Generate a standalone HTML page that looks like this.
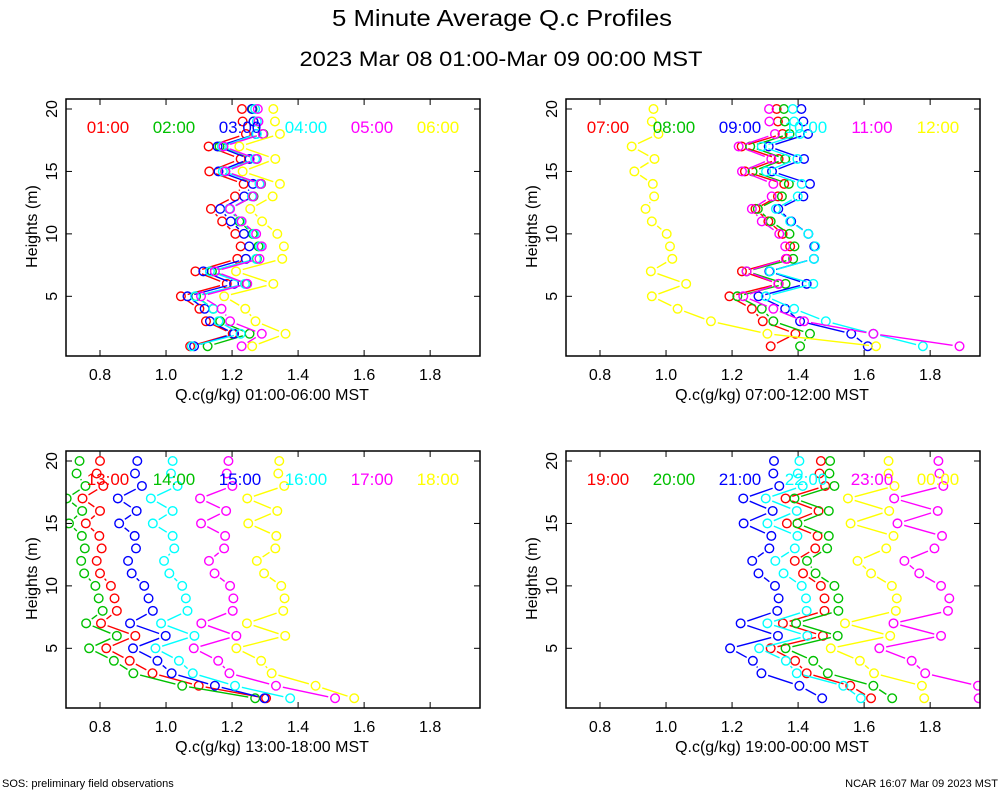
<!DOCTYPE html>
<html><head><meta charset="utf-8"><style>
body{margin:0;background:#fff;width:1000px;height:800px;overflow:hidden}
svg{display:block;font-family:"Liberation Sans",sans-serif}
</style></head><body>
<svg id="chart" width="1000" height="800" viewBox="0 0 1000 800">
<text x="502" y="26" text-anchor="middle" font-size="23" textLength="340" lengthAdjust="spacingAndGlyphs">5 Minute Average Q.c Profiles</text>
<text x="501" y="66" text-anchor="middle" font-size="21" textLength="403" lengthAdjust="spacingAndGlyphs">2023 Mar 08 01:00-Mar 09 00:00 MST</text>
<text x="2" y="787" font-size="11">SOS: preliminary field observations</text>
<text x="998" y="787" font-size="11" text-anchor="end">NCAR 16:07 Mar 09 2023 MST</text>
</svg>
<script>
const heights=[20,19,18,17,16,15,14,13,12,11,10,9,8,7,6,5,4,3,2,1];
const xTicks=[0.8,1.0,1.2,1.4,1.6,1.8];
const yTicks=[5,10,15,20];
const colors=["#ff0000","#00c000","#0000ff","#00ffff","#ff00ff","#ffff00"];
const p1Labels=["01:00","02:00","03:00","04:00","05:00","06:00"];
const p2Labels=["07:00","08:00","09:00","10:00","11:00","12:00"];
const p3Labels=["13:00","14:00","15:00","16:00","17:00","18:00"];
const p4Labels=["19:00","20:00","21:00","22:00","23:00","00:00"];
const p1Red=[1.230,1.232,1.242,1.129,1.226,1.131,1.235,1.209,1.136,1.170,1.210,1.226,1.216,1.089,1.184,1.045,1.101,1.121,1.202,1.073];
const p1Green=[1.262,1.265,1.295,1.162,1.275,1.179,1.288,1.265,1.192,1.222,1.263,1.280,1.275,1.139,1.244,1.091,1.143,1.164,1.253,1.126];
const p1Blue=[1.260,1.265,1.273,1.156,1.253,1.159,1.263,1.237,1.164,1.196,1.236,1.252,1.242,1.113,1.206,1.065,1.117,1.133,1.206,1.085];
const p1Cyan=[1.270,1.275,1.275,1.169,1.270,1.172,1.283,1.260,1.192,1.226,1.267,1.285,1.273,1.133,1.239,1.088,1.143,1.159,1.226,1.078];
const p1Magenta=[1.278,1.280,1.293,1.174,1.275,1.180,1.287,1.263,1.194,1.229,1.273,1.290,1.283,1.148,1.246,1.106,1.168,1.194,1.290,1.229];
const p1Yellow=[1.325,1.330,1.345,1.222,1.331,1.232,1.345,1.323,1.255,1.291,1.337,1.357,1.352,1.212,1.325,1.176,1.240,1.271,1.362,1.261];
const p2Red=[1.335,1.339,1.353,1.229,1.341,1.239,1.358,1.339,1.271,1.310,1.353,1.376,1.366,1.230,1.341,1.192,1.260,1.293,1.392,1.317];
const p2Green=[1.357,1.360,1.374,1.255,1.361,1.262,1.372,1.351,1.278,1.317,1.374,1.389,1.385,1.244,1.362,1.216,1.290,1.325,1.436,1.406];
const p2Blue=[1.410,1.416,1.430,1.311,1.418,1.321,1.436,1.416,1.340,1.379,1.431,1.449,1.448,1.313,1.426,1.280,1.361,1.406,1.561,1.611];
const p2Cyan=[1.384,1.388,1.406,1.290,1.398,1.303,1.411,1.399,1.333,1.376,1.431,1.452,1.448,1.315,1.446,1.302,1.388,1.484,1.628,1.778];
const p2Magenta=[1.312,1.313,1.330,1.220,1.319,1.230,1.325,1.320,1.260,1.290,1.343,1.361,1.363,1.244,1.340,1.234,1.325,1.418,1.628,1.889];
const p2Yellow=[0.962,0.957,0.977,0.896,0.965,0.904,0.960,0.964,0.938,0.957,1.002,1.012,1.019,0.954,1.061,0.957,1.035,1.136,1.307,1.636];
const p3Red=[0.800,0.790,0.810,0.747,0.800,0.757,0.798,0.805,0.790,0.800,0.833,0.844,0.851,0.803,0.907,0.819,0.890,0.959,1.099,1.303];
const p3Green=[0.738,0.729,0.756,0.699,0.746,0.706,0.745,0.754,0.743,0.752,0.786,0.796,0.808,0.758,0.851,0.767,0.842,0.901,1.049,1.270];
const p3Blue=[0.913,0.906,0.927,0.854,0.911,0.858,0.905,0.909,0.885,0.896,0.934,0.947,0.960,0.891,0.999,0.900,0.974,1.017,1.148,1.298];
const p3Cyan=[1.020,1.015,1.035,0.954,1.020,0.960,1.020,1.025,0.994,1.010,1.049,1.060,1.065,0.985,1.086,0.968,1.039,1.081,1.209,1.376];
const p3Magenta=[1.189,1.184,1.201,1.103,1.182,1.106,1.179,1.176,1.130,1.147,1.194,1.204,1.202,1.107,1.213,1.084,1.158,1.192,1.333,1.512];
const p3Yellow=[1.343,1.340,1.358,1.246,1.337,1.249,1.334,1.331,1.275,1.297,1.349,1.359,1.355,1.245,1.361,1.213,1.288,1.320,1.453,1.570];
const p4Red=[1.469,1.465,1.482,1.362,1.462,1.366,1.459,1.452,1.390,1.415,1.469,1.480,1.480,1.354,1.475,1.317,1.391,1.426,1.558,1.621];
const p4Green=[1.497,1.495,1.510,1.389,1.493,1.398,1.493,1.488,1.427,1.453,1.510,1.522,1.522,1.394,1.520,1.362,1.446,1.490,1.628,1.685];
const p4Blue=[1.327,1.325,1.343,1.234,1.323,1.235,1.319,1.313,1.261,1.280,1.330,1.341,1.337,1.226,1.339,1.194,1.263,1.289,1.404,1.473];
const p4Cyan=[1.404,1.399,1.414,1.302,1.396,1.307,1.398,1.390,1.331,1.356,1.411,1.424,1.426,1.307,1.428,1.282,1.363,1.396,1.537,1.590];
const p4Magenta=[1.825,1.828,1.840,1.691,1.823,1.701,1.836,1.813,1.722,1.767,1.833,1.858,1.854,1.689,1.833,1.646,1.744,1.785,1.945,1.947];
const p4Yellow=[1.674,1.674,1.692,1.551,1.676,1.559,1.689,1.667,1.580,1.621,1.684,1.699,1.696,1.542,1.679,1.499,1.587,1.630,1.775,1.782];

const NS="http://www.w3.org/2000/svg";
const svg=document.getElementById('chart');
function mk(tag,attrs,parent){const e=document.createElementNS(NS,tag);for(const k in attrs)e.setAttribute(k,attrs[k]);(parent||svg).appendChild(e);return e;}

const panels=[
 {x0:66,y0:99,label:"Q.c(g/kg) 01:00-06:00 MST",labels:p1Labels,series:[p1Red,p1Green,p1Blue,p1Cyan,p1Magenta,p1Yellow]},
 {x0:566,y0:99,label:"Q.c(g/kg) 07:00-12:00 MST",labels:p2Labels,series:[p2Red,p2Green,p2Blue,p2Cyan,p2Magenta,p2Yellow]},
 {x0:66,y0:451,label:"Q.c(g/kg) 13:00-18:00 MST",labels:p3Labels,series:[p3Red,p3Green,p3Blue,p3Cyan,p3Magenta,p3Yellow]},
 {x0:566,y0:451,label:"Q.c(g/kg) 19:00-00:00 MST",labels:p4Labels,series:[p4Red,p4Green,p4Blue,p4Cyan,p4Magenta,p4Yellow]}
];
const W=414,H=257,XMIN=0.697,XMAX=1.951,YMIN=0.22,YMAX=20.8;
panels.forEach((p,pi)=>{
  const sx=v=>p.x0+(v-XMIN)/(XMAX-XMIN)*W;
  const sy=v=>p.y0+H-(v-YMIN)/(YMAX-YMIN)*H;
  const g=mk('g',{});
  
  
  const cp=mk('clipPath',{id:'clip'+pi},g);
  mk('rect',{x:p.x0,y:p.y0,width:W,height:H},cp);
  xTicks.forEach(t=>{
    const x=sx(t);
    mk('line',{x1:x,x2:x,y1:p.y0+H,y2:p.y0+H-6,stroke:'#000','stroke-width':1},g);
    mk('line',{x1:x,x2:x,y1:p.y0,y2:p.y0+6,stroke:'#000','stroke-width':1},g);
    const tl=mk('text',{x:x,y:p.y0+H+24,'text-anchor':'middle','font-size':16},g);
    tl.textContent=t.toFixed(1);
    
    
  });
  yTicks.forEach(t=>{
    const y=sy(t);
    mk('line',{x1:p.x0,x2:p.x0+6,y1:y,y2:y,stroke:'#000','stroke-width':1},g);
    mk('line',{x1:p.x0+W,x2:p.x0+W-6,y1:y,y2:y,stroke:'#000','stroke-width':1},g);
    const tl=mk('text',{x:0,y:0,'text-anchor':'middle','font-size':16,transform:`translate(${p.x0-9},${y}) rotate(-90)`},g);
    tl.textContent=String(t);
    
    
  });
  const xl=mk('text',{x:p.x0+W/2-1,y:p.y0+H+44,'text-anchor':'middle','font-size':16},g);
  xl.textContent=p.label;
  
  
  const yl=mk('text',{x:0,y:0,'text-anchor':'middle','font-size':16,transform:`translate(${p.x0-29},${p.y0+H/2-1}) rotate(-90)`},g);
  yl.textContent="Heights (m)";
  
  
  const dg=mk('g',{'clip-path':`url(#clip${pi})`},g);
  p.series.forEach((vals,si)=>{
    const sg=mk('g',{},dg);
    
    
    for(let i=0;i<vals.length-1;i++){
      const x1=sx(vals[i]),y1=sy(heights[i]),x2=sx(vals[i+1]),y2=sy(heights[i+1]);
      const d=Math.hypot(x2-x1,y2-y1),gap=7;
      if(d>2*gap+1){
        const ux=(x2-x1)/d,uy=(y2-y1)/d;
        const l=mk('line',{x1:x1+ux*gap,y1:y1+uy*gap,x2:x2-ux*gap,y2:y2-uy*gap,stroke:colors[si],'stroke-width':1.4},sg);
        
        
      }
    }
    vals.forEach((v,i)=>{
      const c=mk('circle',{cx:sx(v),cy:sy(heights[i]),r:4.3,fill:'none',stroke:colors[si],'stroke-width':1.4},sg);
      
      
    });
  });
  p.labels.forEach((lb,si)=>{
    const t=mk('text',{x:p.x0+42+si*66,y:p.y0+34,'text-anchor':'middle','font-size':17,fill:colors[si]},g);
    t.textContent=lb;
    
    
  });
  const fr=mk('rect',{x:p.x0,y:p.y0,width:W,height:H,fill:'none',stroke:'#000','stroke-width':1.5},g);
  
  
});
</script>
</body></html>
